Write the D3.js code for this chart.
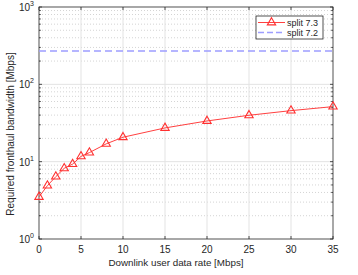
<!DOCTYPE html>
<html>
<head>
<meta charset="utf-8">
<script src="https://cdn.jsdelivr.net/npm/d3@7"></script>
<style>
  body { margin: 0; background: #fff; }
  text { font-family: "Liberation Sans", Arial, sans-serif; fill: #262626; }
</style>
</head>
<body>
<svg id="chart"></svg>
<script>
// data
const rates = [0, 1, 2, 3, 4, 5, 6, 8, 10, 15, 20, 25, 30, 35];
const split73 = [3.5, 4.9, 6.4, 8.2, 9.3, 11.7, 13.1, 17, 20.7, 27.3, 33.6, 39.8, 45.7, 51.5];
const split72 = 270;
const xTicks = [0, 5, 10, 15, 20, 25, 30, 35];
const yTicks = [1, 10, 100, 1000];
const legendLabels = ['split 7.3', 'split 7.2'];

const width = 358, height = 275;
const margin = {top: 7, right: 25, bottom: 36, left: 39};

const svg = d3.select('#chart')
    .attr('width', width)
    .attr('height', height);

const x = d3.scaleLinear().domain([0, 35]).range([margin.left, width - margin.right]);
const y = d3.scaleLog().domain([1, 1000]).range([height - margin.bottom, margin.top]);

const x0 = x.range()[0], x1 = x.range()[1];
const y0 = y.range()[0], y1 = y.range()[1];

// minor log ticks
let minor = [];
for (let d = 1; d < 1000; d *= 10) {
    for (let k = 2; k <= 9; k++) minor.push(d * k);
}

const grid = svg.append('g');
grid.selectAll('line.minor')
    .data(minor)
    .enter().append('line')
    .attr('x1', x0).attr('x2', x1)
    .attr('y1', d => y(d)).attr('y2', d => y(d))
    .attr('stroke', '#d4d4d4')
    .attr('stroke-dasharray', '1,2');
grid.selectAll('line.ymaj')
    .data(yTicks.slice(1, -1))
    .enter().append('line')
    .attr('x1', x0).attr('x2', x1)
    .attr('y1', d => y(d)).attr('y2', d => y(d))
    .attr('stroke', '#e3e3e3');
grid.selectAll('line.xmaj')
    .data(xTicks.slice(1, -1))
    .enter().append('line')
    .attr('x1', d => x(d)).attr('x2', d => x(d))
    .attr('y1', y0).attr('y2', y1)
    .attr('stroke', '#e3e3e3');

// axes (MATLAB style: ticks inward, box on)
const tickLen = 3;
const ax = svg.append('g').attr('stroke', '#262626').attr('stroke-width', 0.8);
xTicks.forEach(t => {
    ax.append('line').attr('x1', x(t)).attr('x2', x(t)).attr('y1', y0).attr('y2', y0 - tickLen);
    ax.append('line').attr('x1', x(t)).attr('x2', x(t)).attr('y1', y1).attr('y2', y1 + tickLen);
});
yTicks.forEach(t => {
    ax.append('line').attr('x1', x0).attr('x2', x0 + tickLen).attr('y1', y(t)).attr('y2', y(t));
    ax.append('line').attr('x1', x1).attr('x2', x1 - tickLen).attr('y1', y(t)).attr('y2', y(t));
});
minor.forEach(t => {
    ax.append('line').attr('x1', x0).attr('x2', x0 + 1.8).attr('y1', y(t)).attr('y2', y(t));
    ax.append('line').attr('x1', x1).attr('x2', x1 - 1.8).attr('y1', y(t)).attr('y2', y(t));
});
ax.append('rect')
    .attr('x', x0).attr('y', y1)
    .attr('width', x1 - x0).attr('height', y0 - y1)
    .attr('fill', 'none');

// tick labels
svg.append('g').selectAll('text')
    .data(xTicks)
    .enter().append('text')
    .attr('x', d => x(d))
    .attr('y', y0 + 14)
    .attr('text-anchor', 'middle')
    .style('font-size', '10px')
    .text(d => d);

const yl = svg.append('g').selectAll('text')
    .data(yTicks)
    .enter().append('text')
    .attr('x', x0 - 5)
    .attr('y', d => y(d) + 4)
    .attr('text-anchor', 'end')
    .style('font-size', '10px');
yl.append('tspan').text('10');
yl.append('tspan')
    .attr('dy', -5)
    .style('font-size', '7px')
    .text(d => Math.round(Math.log10(d)));

// split 7.2 dashed line
svg.append('line')
    .attr('x1', x0).attr('x2', x1)
    .attr('y1', y(split72)).attr('y2', y(split72))
    .attr('stroke', '#9d9dff')
    .attr('stroke-width', 1.6)
    .attr('stroke-dasharray', '7,4');

// split 7.3 line + markers
const line = d3.line()
    .x((d, i) => x(rates[i]))
    .y(d => y(d));
svg.append('path')
    .datum(split73)
    .attr('d', line)
    .attr('fill', 'none')
    .attr('stroke', '#ff4040')
    .attr('stroke-width', 1);

const tri = d3.symbol().type(d3.symbolTriangle).size(30);
svg.append('g').selectAll('path')
    .data(split73)
    .enter().append('path')
    .attr('d', tri)
    .attr('transform', (d, i) => `translate(${x(rates[i])},${y(d)})`)
    .attr('fill', 'none')
    .attr('stroke', '#ff3030')
    .attr('stroke-width', 1.1);

// legend
const lg = svg.append('g');
lg.append('rect')
    .attr('x', 256).attr('y', 16)
    .attr('width', 67).attr('height', 23)
    .attr('fill', '#fff')
    .attr('stroke', '#262626')
    .attr('stroke-width', 0.8);
lg.append('line')
    .attr('x1', 258).attr('x2', 285).attr('y1', 22.5).attr('y2', 22.5)
    .attr('stroke', '#ff4040');
lg.append('path')
    .attr('d', tri)
    .attr('transform', 'translate(271.5,22.5)')
    .attr('fill', 'none')
    .attr('stroke', '#ff3030')
    .attr('stroke-width', 1.1);
lg.append('line')
    .attr('x1', 258).attr('x2', 285).attr('y1', 32.5).attr('y2', 32.5)
    .attr('stroke', '#9d9dff')
    .attr('stroke-width', 1.4)
    .attr('stroke-dasharray', '6,3');
lg.selectAll('text.lab')
    .data(legendLabels)
    .enter().append('text')
    .attr('x', 287)
    .attr('y', (d, i) => 26 + i * 10)
    .style('font-size', '9px')
    .text(d => d);

// axis titles
svg.append('text')
    .attr('x', 176)
    .attr('y', height - 9)
    .attr('text-anchor', 'middle')
    .style('font-size', '9.8px')
    .text('Downlink user data rate [Mbps]');
svg.append('text')
    .attr('transform', 'translate(13.5,134) rotate(-90)')
    .attr('text-anchor', 'middle')
    .style('font-size', '10px')
    .text('Required fronthaul bandwidth [Mbps]');
</script>
</body>
</html>
